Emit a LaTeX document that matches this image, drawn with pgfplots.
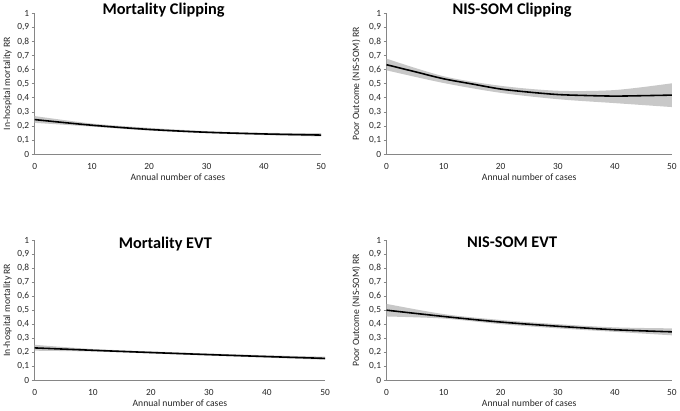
\documentclass[border=0pt]{standalone}
\usepackage{fontspec}
\setmainfont{Carlito}
\usepackage{pgfplots}
\pgfplotsset{compat=1.18}
\usepgfplotslibrary{fillbetween}
\definecolor{axgray}{RGB}{134,134,134}
\definecolor{bandgray}{RGB}{200,200,200}
\pgfplotsset{
  panel/.style={
    scale only axis,
    xmin=0, xmax=50, ymin=0, ymax=1,
    xtick={0,10,...,50},
    ytick={0,0.1,...,1},
    axis x line*=bottom, axis y line*=left,
    axis line style={axgray, line width=0.8pt},
    x axis line style={-}, y axis line style={-},
    xtick style={draw=none},
    ytick style={axgray, line width=0.6pt},
    tick align=outside,
    major tick length=3bp,
    /pgf/number format/assume math mode=true,
    /pgf/number format/use comma,
    ticklabel style={font=\fontsize{9.5}{10}\selectfont, text=black!85},
    yticklabel style={xshift=1bp},
    xticklabel style={yshift=-3bp},
    label style={font=\fontsize{9.8}{11}\selectfont, text=black!85},
    xlabel={Annual number of cases},
    xlabel style={yshift=3bp},
    title style={font=\fontsize{16.5}{18}\selectfont\bfseries, at={(0.45,1)}, anchor=north, yshift=2bp},
    clip=false,
  },
  band/.style={fill=bandgray, draw=none},
  mainline/.style={black, line width=1.6pt, smooth, tension=0.5},
}
\begin{document}
\begin{tikzpicture}[x=1bp,y=1bp]
\path (0,0) rectangle (680,404);

% Panel 1: Mortality Clipping
\begin{axis}[panel, at={(32bp,259bp)}, anchor=south west, width=289bp, height=142bp,
  ylabel={In-hospital mortality RR}, ylabel style={yshift=-1bp},
  title={Mortality Clipping}, title style={at={(0.45,1.04)}}]
\addplot[name path=u1, draw=none, smooth] coordinates {(0,0.270) (10,0.217) (20,0.186) (30,0.163) (40,0.151) (50,0.148)};
\addplot[name path=l1, draw=none, smooth] coordinates {(0,0.222) (10,0.195) (20,0.167) (30,0.148) (40,0.135) (50,0.125)};
\addplot[band] fill between[of=u1 and l1];
\addplot[mainline] coordinates {(0,0.245) (10,0.205) (20,0.175) (30,0.155) (40,0.143) (50,0.135)};
\end{axis}

% Panel 2: NIS-SOM Clipping
\begin{axis}[panel, at={(387bp,259bp)}, anchor=south west, width=288bp, height=142bp,
  ylabel={Poor Outcome (NIS-SOM) RR}, ylabel style={yshift=2bp},
  title={NIS-SOM Clipping}, title style={at={(0.44,1.04)}}]
\addplot[name path=u2, draw=none, smooth] coordinates {(0,0.678) (10,0.553) (20,0.485) (30,0.450) (40,0.455) (50,0.503)};
\addplot[name path=l2, draw=none, smooth] coordinates {(0,0.595) (10,0.505) (20,0.435) (30,0.390) (40,0.362) (50,0.334)};
\addplot[band] fill between[of=u2 and l2];
\addplot[mainline] coordinates {(0,0.635) (5,0.585) (10,0.535) (15,0.498) (20,0.462) (25,0.440) (30,0.423) (35,0.416) (40,0.412) (45,0.415) (50,0.419)};
\end{axis}

% Panel 3: Mortality EVT
\begin{axis}[panel, at={(32bp,31bp)}, anchor=south west, width=293bp, height=141bp,
  ylabel={In-hospital mortality RR}, ylabel style={yshift=-1bp},
  title={Mortality EVT}, title style={at={(0.45,0.99)}}]
\addplot[name path=u3, draw=none, smooth] coordinates {(0,0.252) (10,0.222) (20,0.205) (30,0.190) (40,0.177) (50,0.167)};
\addplot[name path=l3, draw=none, smooth] coordinates {(0,0.210) (10,0.204) (20,0.190) (30,0.175) (40,0.160) (50,0.145)};
\addplot[band] fill between[of=u3 and l3];
\addplot[mainline] coordinates {(0,0.230) (10,0.213) (20,0.197) (30,0.182) (40,0.168) (50,0.155)};
\end{axis}

% Panel 4: NIS-SOM EVT
\begin{axis}[panel, at={(387bp,31bp)}, anchor=south west, width=288bp, height=141bp,
  ylabel={Poor Outcome (NIS-SOM) RR}, ylabel style={yshift=2bp},
  title={NIS-SOM EVT}, title style={at={(0.44,0.99)}}]
\addplot[name path=u4, draw=none, smooth] coordinates {(0,0.545) (10,0.472) (20,0.430) (30,0.400) (40,0.377) (50,0.370)};
\addplot[name path=l4, draw=none, smooth] coordinates {(0,0.455) (10,0.440) (20,0.400) (30,0.370) (40,0.345) (50,0.320)};
\addplot[band] fill between[of=u4 and l4];
\addplot[mainline] coordinates {(0,0.500) (10,0.455) (20,0.415) (30,0.385) (40,0.360) (50,0.345)};
\end{axis}
\end{tikzpicture}
\end{document}
